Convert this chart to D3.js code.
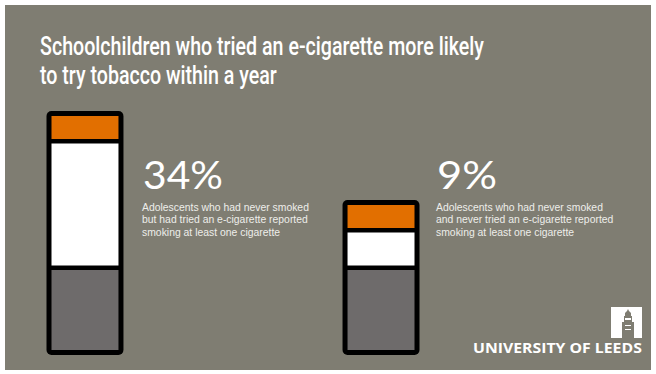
<!DOCTYPE html>
<html><head><meta charset="utf-8">
<script src="https://cdn.jsdelivr.net/npm/d3@7"></script>
<style>html,body{margin:0;padding:0;background:#fff;}svg{display:block;}</style>
</head><body>
<script>
// ---- data ----
const categories = ["Tried e-cigarette", "Never tried e-cigarette"];
const percentLabels = ["34%", "9%"];
const baseValues = [80, 80];      // grey segment
const middleValues = [122, 33];   // white segment
const topValues = [23, 23];       // orange segment
const titleLines = ["Schoolchildren who tried an e-cigarette more likely", "to try tobacco within a year"];
const descriptions = [
  ["Adolescents who had never smoked", "but had tried an e-cigarette reported", "smoking at least one cigarette"],
  ["Adolescents who had never smoked", "and never tried an e-cigarette reported", "smoking at least one cigarette"]
];

const W = 656, H = 374;
const svg = d3.select("body").append("svg").attr("width", W).attr("height", H);
svg.append("rect").attr("x", 5).attr("y", 5).attr("width", 646).attr("height", 365).attr("fill", "#7f7d72");

// one text block with tspans, squeezed horizontally so first line has width refW
function squeezed(parent, lines, x, y0, dy, refW, attrs) {
  const t = parent.append("text").attr("x", 0).attr("y", 0);
  Object.entries(attrs).forEach(([k, v]) => t.attr(k, v));
  const spans = lines.map((line, j) => t.append("tspan").attr("x", 0).attr("y", j * dy).text(line));
  const sx = refW / spans[0].node().getComputedTextLength();
  t.attr("transform", `translate(${x},${y0}) scale(${sx},1)`);
  return t;
}

// Title
squeezed(svg.append("g"), titleLines, 40, 54.5, 29.5, 444, {
  fill: "#fff", "font-family": "Roboto, 'Liberation Sans', sans-serif", "font-weight": 500, "font-size": 25
});

// scales
const x = d3.scaleBand().domain(categories).range([46.5, 419.5]).paddingInner(0.74);
const gap = 4.5, border = 5;
const y = d3.scaleLinear().domain([0, 240]).range([350, 110]);

categories.forEach((c, i) => {
  const x0 = x(c), bw = x.bandwidth();
  const segs = [
    {v: baseValues[i], fill: "#6e6b6b"},
    {v: middleValues[i], fill: "#ffffff"},
    {v: topValues[i], fill: "#e26f00"}
  ];
  let cum = 0;
  const rects = segs.map((s, k) => {
    const start = cum + (k > 0 ? gap : 0);
    const end = start + s.v;
    cum = end;
    return {y0: y(end), y1: y(start), fill: s.fill};
  });
  const top = rects[2].y0 - border, bottom = y(0) + border;
  const g = svg.append("g");
  g.append("rect").attr("x", x0).attr("y", top).attr("width", bw).attr("height", bottom - top)
    .attr("rx", 5).attr("fill", "#000");
  rects.forEach(r => {
    g.append("rect").attr("x", x0 + border).attr("y", r.y0).attr("width", bw - 2 * border)
      .attr("height", r.y1 - r.y0).attr("fill", r.fill);
  });
});

// Labels
const labelX = [143, 437];
const bigW = [80, 60];
percentLabels.forEach((p, i) => {
  squeezed(svg.append("g"), [p], labelX[i], 189, 0, bigW[i], {
    fill: "#fff", "font-family": "Lato, 'Open Sans', sans-serif", "font-size": 38
  });
  squeezed(svg.append("g"), descriptions[i], labelX[i] - 1, 211, 12.5, 167, {
    fill: "#eeeeea", "font-family": "'Liberation Sans', Arial, sans-serif", "font-size": 10.8
  });
});

// Logo
const lg = svg.append("g");
lg.append("rect").attr("x", 611).attr("y", 307).attr("width", 31).attr("height", 31).attr("fill", "#fff");
const tc = "#7f7d72";
lg.append("path").attr("fill", tc).attr("d",
  "M622,338 L622,322 L624,322 L624,316 L625,316 L625,313 L627,311 L628,309 L629,311 L631,313 L631,316 L632,316 L632,322 L634,322 L634,338 Z");
lg.append("rect").attr("x", 625).attr("y", 318).attr("width", 6).attr("height", 2).attr("fill", "#fff");
lg.append("rect").attr("x", 625).attr("y", 325).attr("width", 6).attr("height", 1).attr("fill", "#fff");
lg.append("rect").attr("x", 625).attr("y", 329).attr("width", 6).attr("height", 1).attr("fill", "#fff");
squeezed(svg.append("g"), ["UNIVERSITY OF LEEDS"], 473, 353, 0, 169, {
  fill: "#fff", "font-family": "'Open Sans', Lato, sans-serif", "font-weight": "bold", "font-size": 15
});
</script>
</body></html>
